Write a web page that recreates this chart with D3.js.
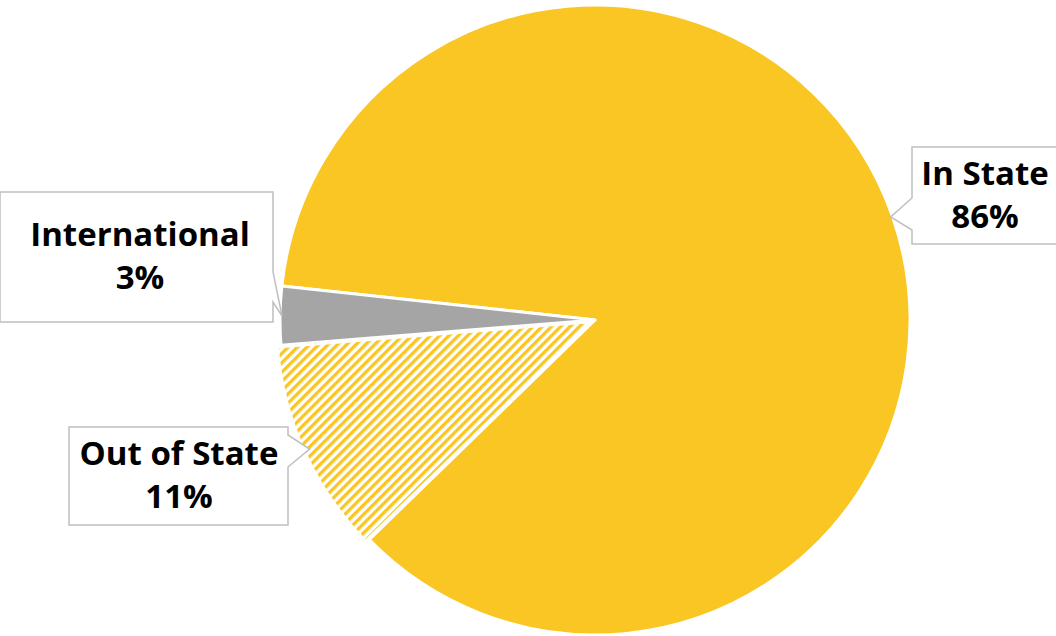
<!DOCTYPE html>
<html>
<head>
<meta charset="utf-8">
<script src="https://cdn.jsdelivr.net/npm/d3@7"></script>
<style>
  html, body { margin: 0; padding: 0; background: #fff; }
  svg { display: block; }
  .lbl { font-family: "Open Sans", "Noto Sans", sans-serif; font-weight: 700; font-size: 33px; fill: #000; font-variant-ligatures: none; }
</style>
</head>
<body>
<svg id="chart" width="1056" height="636"></svg>
<script>
// data
var categories = ['In State', 'Out of State', 'International'];
var shares = [86, 11, 3];
var labels = ['86%', '11%', '3%'];

// layout
var width = 1056, height = 636;
var cx = 595, cy = 320, radius = 315;
var startDeg = 276.2;

// callout boxes: x, y, w, h, pointer side, pointer base (y0, y1), tip y
var boxes = [
  { x: 912, y: 147, w: 150, h: 97, side: 'left', b0: 198, b1: 230, tipY: 217, tx: 985 },
  { x: 69, y: 427, w: 219, h: 98, side: 'right', b0: 435, b1: 467, tipY: 449, tx: 179 },
  { x: 0, y: 192, w: 273, h: 130, side: 'right', b0: 272, b1: 302, tipY: 316, tx: 140 }
];

var colors = ['#F9C623', 'url(#hatch)', '#A5A5A5'];

var svg = d3.select('#chart');

// 斜線パターン
var defs = svg.append('defs');
var pat = defs.append('pattern')
  .attr('id', 'hatch')
  .attr('patternUnits', 'userSpaceOnUse')
  .attr('width', 6.6)
  .attr('height', 6.6)
  .attr('patternTransform', 'rotate(45)');
pat.append('rect').attr('width', 6.6).attr('height', 6.6).attr('fill', '#fff');
pat.append('rect').attr('x', 0).attr('width', 3.3).attr('height', 6.6).attr('fill', '#F9C623');

var pie = d3.pie()
  .sort(null)
  .value(function(d) { return d; })
  .startAngle(startDeg * Math.PI / 180)
  .endAngle(startDeg * Math.PI / 180 + 2 * Math.PI);

var arc = d3.arc().innerRadius(0).outerRadius(radius);

var g = svg.append('g').attr('transform', 'translate(' + cx + ',' + cy + ')');

g.selectAll('path.slice')
  .data(pie(shares))
  .enter()
  .append('path')
  .attr('class', 'slice')
  .attr('transform', function(d, i) {
    // Out of State だけ少し外に出す
    if (i !== 1) return null;
    var a = (d.startAngle + d.endAngle) / 2;
    return 'translate(' + (Math.sin(a) * 4) + ',' + (-Math.cos(a) * 4) + ')';
  })
  .attr('d', arc)
  .attr('fill', function(d, i) { return colors[i]; })
  .attr('stroke', '#fff')
  .attr('stroke-width', 3)
  .attr('stroke-linejoin', 'round');

// callouts
var callouts = svg.selectAll('g.callout')
  .data(boxes)
  .enter()
  .append('g')
  .attr('class', 'callout');

callouts.append('path')
  .attr('d', function(b) {
    var dy = b.tipY - cy;
    var dx = Math.sqrt(radius * radius - dy * dy);
    var tipX = b.side === 'left' ? cx + dx - 2 : cx - dx + 2;
    var p = d3.path();
    p.moveTo(b.x, b.y);
    p.lineTo(b.x + b.w, b.y);
    if (b.side === 'right') {
      p.lineTo(b.x + b.w, b.b0);
      p.lineTo(tipX, b.tipY);
      p.lineTo(b.x + b.w, b.b1);
    }
    p.lineTo(b.x + b.w, b.y + b.h);
    p.lineTo(b.x, b.y + b.h);
    if (b.side === 'left') {
      p.lineTo(b.x, b.b1);
      p.lineTo(tipX, b.tipY);
      p.lineTo(b.x, b.b0);
    }
    p.closePath();
    return p.toString();
  })
  .attr('fill', '#fff')
  .attr('stroke', '#BFBFBF')
  .attr('stroke-width', 1.5);

callouts.each(function(b, i) {
  var t = d3.select(this).append('text')
    .attr('class', 'lbl')
    .attr('text-anchor', 'middle');
  t.append('tspan').attr('x', b.tx).attr('y', b.y + b.h / 2 - 11).text(categories[i]);
  t.append('tspan').attr('x', b.tx).attr('y', b.y + b.h / 2 + 32).text(labels[i]);
});
</script>
</body>
</html>
